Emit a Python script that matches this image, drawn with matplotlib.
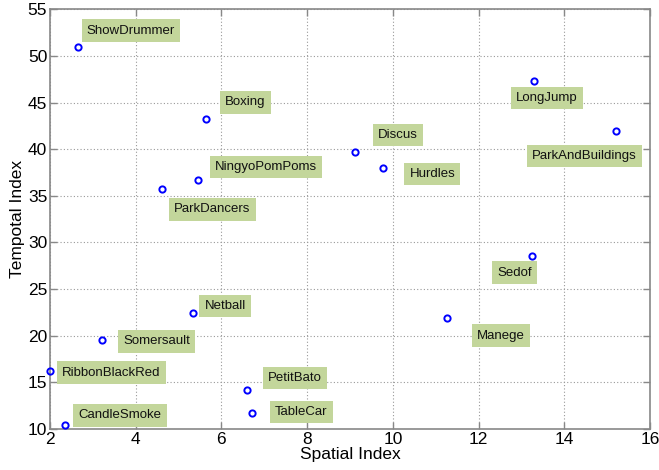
import numpy as np
from matplotlib import pyplot as plt

plt.rcParams['font.family'] = ['Liberation Sans', 'DejaVu Sans']

# sequence names and their spatial / temporal index
names = ['ShowDrummer', 'Boxing', 'NingyoPomPoms', 'ParkDancers', 'Discus',
         'Hurdles', 'LongJump', 'ParkAndBuildings', 'Sedof', 'Manege',
         'Netball', 'Somersault', 'RibbonBlackRed', 'PetitBato', 'TableCar',
         'CandleSmoke']
spatial = [2.65, 5.64, 5.45, 4.62, 9.12, 9.78, 13.29, 15.21, 13.25, 11.26,
           5.33, 3.22, 2.0, 6.6, 6.71, 2.36]
temporal = [51.0, 43.2, 36.7, 35.7, 39.7, 38.0, 47.3, 41.95, 28.6, 21.95,
            22.45, 19.5, 16.25, 14.2, 11.7, 10.4]

# label offsets from the point (pixels, right / up) to text left edge
offsets = [(9, 16), (19, 17), (17, 13), (12, -20), (23, 17), (26, -6),
           (-18, -17), (-84, -25), (-35, -17), (30, -18), (12, 7),
           (21, -1), (12, -2), (21, 12), (23, 1), (13, 10)]

fig = plt.figure(figsize=(6.59, 4.70), dpi=100)
ax = fig.add_axes([0.0759, 0.0872, 0.9104, 0.8930])

ax.plot(spatial, temporal, 'o', linestyle='none', markerfacecolor='none',
        markeredgecolor='#0000ff', markersize=4.5, markeredgewidth=1.4,
        zorder=3, clip_on=False)

for name, x, y, (dx, dy) in zip(names, spatial, temporal, offsets):
	ax.annotate(name, (x, y), xytext=(dx * 0.72, dy * 0.72),
	            textcoords='offset points', ha='left', va='center',
	            fontsize=9.5, color='#111111', zorder=4,
	            bbox=dict(boxstyle='square,pad=0.4', facecolor='#c3d69b',
	                      edgecolor='none'))

ax.set_xlim(2, 16)
ax.set_ylim(10, 55)
ax.set_xticks(np.arange(2, 17, 2))
ax.set_yticks(np.arange(10, 56, 5))
ax.grid(True, linestyle=(0, (1, 2)), color='#999999', linewidth=0.8)
ax.set_axisbelow(True)

for s in ax.spines.values():
	s.set_color('#888888')
	s.set_linewidth(1.2)
ax.tick_params(direction='in', length=5, width=1, color='#888888',
               top=True, right=True, labelsize=12.5, pad=2)

ax.set_xlabel('Spatial Index', fontsize=12.5, labelpad=0)
ax.set_ylabel('Tempotal Index', fontsize=12.5, labelpad=2)

fig.savefig('out.png', dpi=100)
